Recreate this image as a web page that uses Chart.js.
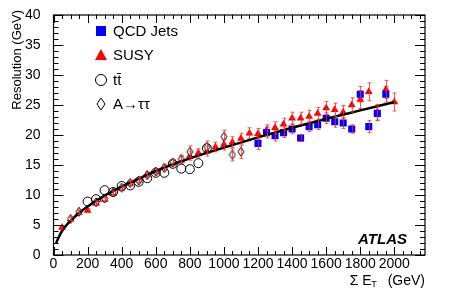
<!DOCTYPE html>
<html>
<head>
<meta charset="utf-8">
<script src="https://cdn.jsdelivr.net/npm/chart.js@4"></script>
<style>
  html, body { margin: 0; padding: 0; background: #fff; }
  #wrap { width: 449px; height: 305px; }
</style>
</head>
<body>
<div id="wrap"><canvas id="resChart" width="449" height="305"></canvas></div>
<script>
// Data
const susyX = [50, 100, 150, 200, 250, 300, 350, 400, 450, 500, 550, 600, 650, 700, 750, 800, 850, 900, 950, 1000,
               1050, 1100, 1150, 1200, 1250, 1300, 1350, 1400, 1450, 1500, 1550, 1600, 1650, 1700, 1750, 1800, 1850, 1900, 1950, 2000];
const susyY = [4.6, 6.0, 7.1, 7.4, 8.6, 9.2, 10.3, 11.1, 11.9, 12.5, 13.4, 13.9, 14.6, 15.4, 15.8, 16.5, 17.0, 17.3, 18.0, 18.4,
               18.8, 19.4, 20.3, 20.2, 20.8, 21.2, 21.8, 22.8, 22.8, 23.1, 23.6, 24.5, 24.2, 23.8, 25.0, 25.9, 27.2, 23.8, 27.6, 25.5];
const susyErr = [0.3, 0.3, 0.3, 0.3, 0.3, 0.3, 0.3, 0.35, 0.35, 0.4, 0.4, 0.45, 0.5, 0.5, 0.6, 0.7, 0.7, 0.8, 0.8, 0.9,
                 0.9, 0.9, 0.9, 0.9, 0.9, 1.0, 1.0, 1.0, 1.0, 1.0, 1.0, 1.1, 1.1, 1.1, 1.2, 1.5, 1.5, 1.3, 1.5, 1.5];

const qcdX = [1200, 1250, 1300, 1350, 1400, 1450, 1500, 1550, 1600, 1650, 1700, 1750, 1800, 1850, 1900, 1950];
const qcdY = [18.6, 20.4, 19.9, 20.4, 21.0, 19.5, 21.4, 21.7, 22.8, 22.2, 22.0, 21.0, 26.8, 21.4, 23.6, 26.8];
const qcdErr = [1.0, 0.9, 0.9, 0.8, 0.8, 0.6, 0.8, 0.8, 0.9, 0.9, 0.9, 0.7, 1.3, 1.0, 1.2, 1.3];

const ttX = [200, 250, 300, 350, 400, 450, 500, 550, 600, 650, 700, 750, 800, 850, 900];
const ttY = [8.9, 9.3, 10.8, 10.5, 11.5, 11.6, 12.2, 12.8, 13.7, 13.7, 15.2, 14.4, 14.3, 15.3, 17.8];

const tauX = [100, 150, 250, 300, 350, 400, 450, 500, 550, 600, 650, 700, 750, 800, 900, 1000, 1050, 1100];
const tauY = [6.0, 7.2, 8.8, 9.4, 10.4, 11.2, 12.0, 12.4, 13.3, 13.9, 14.5, 15.4, 16.0, 17.2, 18.0, 19.7, 16.7, 17.2];
const tauErr = [0.3, 0.3, 0.3, 0.3, 0.3, 0.3, 0.4, 0.4, 0.4, 0.4, 0.5, 0.5, 0.6, 1.0, 1.0, 1.1, 1.0, 1.1];

// Fitted curve
const fitX = [15, 50, 100, 150, 200, 300, 400, 500, 600, 800, 1000, 1200, 1400, 1600, 1800, 2000];
const fitY = [2.0, 4.0, 5.7, 7.0, 8.1, 9.9, 11.4, 12.7, 14.0, 16.1, 17.9, 19.6, 21.2, 22.7, 24.1, 25.5];

// Axis tick labels
const xTickLabels = [0, 200, 400, 600, 800, 1000, 1200, 1400, 1600, 1800, 2000];
const yTickLabels = [0, 5, 10, 15, 20, 25, 30, 35, 40];

const legendLabels = ['QCD Jets', 'SUSY', 't\u0074\u0304', 'A\u2192\u03c4\u03c4'];

function pts(xs, ys) {
    return xs.map((x, i) => ({ x: x, y: ys[i] }));
}

// Narrow open diamond used for the A->tautau markers
function makeDiamond(w, h) {
    const c = document.createElement('canvas');
    c.width = w + 2;
    c.height = h + 2;
    const g = c.getContext('2d');
    g.strokeStyle = '#000';
    g.lineWidth = 1;
    g.beginPath();
    g.moveTo(c.width / 2, 1);
    g.lineTo(c.width - 1, c.height / 2);
    g.lineTo(c.width / 2, c.height - 1);
    g.lineTo(1, c.height / 2);
    g.closePath();
    g.fillStyle = '#fff';
    g.fill();
    g.stroke();
    return c;
}
const diamondSmall = makeDiamond(6, 9);

const FONT = '"Liberation Sans", Arial, Helvetica, sans-serif';

// Error bars through the chart's own scales
const errorBarPlugin = {
    id: 'errorBars',
    afterDatasetsDraw(chart) {
        const ctx = chart.ctx;
        const xs = chart.scales.x, ys = chart.scales.y;
        const sets = [[susyX, susyY, susyErr], [qcdX, qcdY, qcdErr], [tauX, tauY, tauErr]];
        ctx.save();
        ctx.strokeStyle = 'rgba(255,30,30,0.75)';
        ctx.lineWidth = 1;
        sets.forEach(([xa, ya, ea]) => {
            xa.forEach((x, i) => {
                const px = Math.round(xs.getPixelForValue(x)) + 0.5;
                const y1 = ys.getPixelForValue(ya[i] + ea[i]);
                const y2 = ys.getPixelForValue(ya[i] - ea[i]);
                ctx.beginPath();
                ctx.moveTo(px, y1);
                ctx.lineTo(px, y2);
                ctx.moveTo(px - 2, y1);
                ctx.lineTo(px + 2, y1);
                ctx.moveTo(px - 2, y2);
                ctx.lineTo(px + 2, y2);
                ctx.stroke();
            });
        });
        ctx.restore();
    }
};

// ROOT-style frame, inner ticks, titles, legend and label
const framePlugin = {
    id: 'rootFrame',
    afterDraw(chart) {
        const ctx = chart.ctx;
        const a = chart.chartArea;
        const xs = chart.scales.x, ys = chart.scales.y;
        ctx.save();
        ctx.strokeStyle = '#000';
        ctx.lineWidth = 1.2;
        ctx.strokeRect(a.left, a.top, a.right - a.left, a.bottom - a.top);

        ctx.lineWidth = 1;
        ctx.beginPath();
        for (let v = 0; v <= xs.max; v += 50) {
            const px = Math.round(xs.getPixelForValue(v)) + 0.5;
            const len = v % 200 === 0 ? 8 : 4;
            ctx.moveTo(px, a.bottom); ctx.lineTo(px, a.bottom - len);
            ctx.moveTo(px, a.top); ctx.lineTo(px, a.top + len);
        }
        for (let v = 0; v <= ys.max; v += 1) {
            const py = Math.round(ys.getPixelForValue(v)) + 0.5;
            const len = v % 5 === 0 ? 10 : 5;
            ctx.moveTo(a.left, py); ctx.lineTo(a.left + len, py);
            ctx.moveTo(a.right, py); ctx.lineTo(a.right - len, py);
        }
        ctx.stroke();

        // axis titles
        ctx.fillStyle = '#000';
        ctx.font = '13px ' + FONT;
        ctx.textBaseline = 'middle';
        ctx.save();
        ctx.translate(17, 10);
        ctx.rotate(-Math.PI / 2);
        ctx.textAlign = 'right';
        ctx.fillText('Resolution (GeV)', 0, 0);
        ctx.restore();

        ctx.font = '14px ' + FONT;
        ctx.textAlign = 'right';
        ctx.fillText('(GeV)', a.right, 281);
        const w = ctx.measureText('(GeV)').width;
        ctx.font = '9px ' + FONT;
        const tx = a.right - w - 11;
        ctx.fillText('T', tx, 285);
        ctx.font = '14px ' + FONT;
        ctx.fillText('\u03a3 E', tx - 5, 281);

        // ATLAS label
        ctx.font = 'italic bold 15px ' + FONT;
        ctx.textAlign = 'right';
        ctx.fillText('ATLAS', 407, 240);

        // legend
        const lx = 101, ly = [31, 55, 80, 104];
        ctx.font = '15px ' + FONT;
        ctx.textAlign = 'left';
        ctx.fillStyle = '#0000ff';
        ctx.fillRect(lx - 5, ly[0] - 5, 10, 10);
        ctx.fillStyle = '#ff0000';
        ctx.beginPath();
        ctx.moveTo(lx, ly[1] - 6); ctx.lineTo(lx + 6, ly[1] + 5); ctx.lineTo(lx - 6, ly[1] + 5);
        ctx.closePath(); ctx.fill();
        ctx.strokeStyle = '#000';
        ctx.lineWidth = 1;
        ctx.beginPath();
        ctx.arc(lx, ly[2], 5.5, 0, Math.PI * 2);
        ctx.stroke();
        ctx.beginPath();
        ctx.moveTo(lx, ly[3] - 6); ctx.lineTo(lx + 4, ly[3]); ctx.lineTo(lx, ly[3] + 6); ctx.lineTo(lx - 4, ly[3]);
        ctx.closePath(); ctx.stroke();
        ctx.fillStyle = '#000';
        legendLabels.forEach((t, i) => ctx.fillText(t, lx + 12, ly[i] + 1));
        ctx.restore();
    }
};

new Chart(document.getElementById('resChart').getContext('2d'), {
    type: 'scatter',
    data: {
        datasets: [{
            type: 'line',
            label: 'fit',
            data: pts(fitX, fitY),
            borderColor: '#000',
            borderWidth: 2.5,
            pointRadius: 0,
            fill: false,
            cubicInterpolationMode: 'monotone',
            order: 0
        }, {
            label: 'A->tautau',
            data: pts(tauX, tauY),
            pointStyle: diamondSmall,
            order: 1
        }, {
            label: 'ttbar',
            data: pts(ttX, ttY),
            pointStyle: 'circle',
            pointRadius: 4.5,
            borderColor: '#000',
            borderWidth: 1,
            backgroundColor: 'rgba(0,0,0,0)',
            order: 2
        }, {
            label: 'QCD Jets',
            data: pts(qcdX, qcdY),
            pointStyle: 'rect',
            pointRadius: 5,
            borderWidth: 0,
            backgroundColor: '#0000ff',
            order: 3
        }, {
            label: 'SUSY',
            data: pts(susyX, susyY),
            pointStyle: 'triangle',
            pointRadius: 4.5,
            borderWidth: 0,
            backgroundColor: '#ff0000',
            order: 4
        }]
    },
    options: {
        responsive: false,
        animation: false,
        layout: { padding: { top: 15, right: 24, left: 0, bottom: 0 } },
        plugins: {
            legend: { display: false },
            tooltip: { enabled: false }
        },
        scales: {
            x: {
                type: 'linear',
                min: 0,
                max: 2180,
                grid: { display: false },
                border: { display: false },
                afterFit: function (scale) { scale.height = 50; },
                afterBuildTicks: function (scale) {
                    scale.ticks = xTickLabels.map(v => ({ value: v }));
                },
                ticks: {
                    autoSkip: false,
                    maxRotation: 0,
                    padding: -7,
                    color: '#000',
                    font: { family: FONT, size: 14 },
                    callback: v => String(v)
                }
            },
            y: {
                type: 'linear',
                min: 0,
                max: 40,
                grid: { display: false },
                border: { display: false },
                afterFit: function (scale) { scale.width = 53.5; },
                afterBuildTicks: function (scale) {
                    scale.ticks = yTickLabels.map(v => ({ value: v }));
                },
                ticks: {
                    padding: 5,
                    color: '#000',
                    font: { family: FONT, size: 14 },
                    callback: v => String(v)
                }
            }
        }
    },
    plugins: [errorBarPlugin, framePlugin]
});
</script>
</body>
</html>
